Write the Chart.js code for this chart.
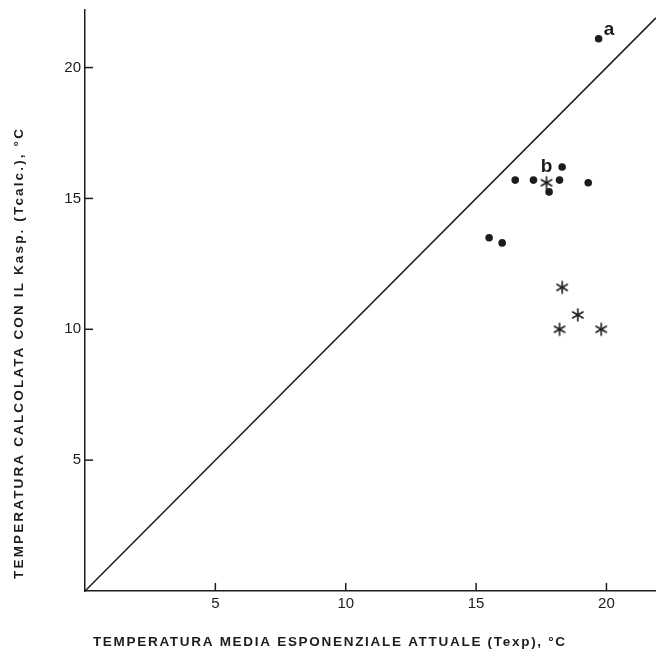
<!DOCTYPE html>
<html>
<head>
<meta charset="utf-8">
<script src="https://cdn.jsdelivr.net/npm/chart.js@4.4.1/dist/chart.umd.min.js"></script>
<style>
  body { margin: 0; background: #fff; }
  #wrap { width: 656px; height: 656px; }
</style>
</head>
<body>
<div id="wrap"><canvas id="chart"></canvas></div>
<script>
// Data
const dotsX = [19.7, 16.5, 17.2, 18.3, 18.2, 17.8, 19.3, 15.5, 16.0];
const dotsY = [21.1, 15.7, 15.7, 16.2, 15.7, 15.25, 15.6, 13.5, 13.3];
const starsX = [17.7, 18.3, 18.9, 18.2, 19.8];
const starsY = [15.6, 11.6, 10.55, 10.0, 10.0];
const diagonal = [0, 21.9];
const xTicks = [5, 10, 15, 20];
const yTicks = [5, 10, 15, 20];
// label text, dataset index, point index
const pointLabels = [
  { text: "a", set: 0, index: 0 },
  { text: "b", set: 1, index: 0 },
];

const ink = "#1c1c1c";
const xTitle = "TEMPERATURA MEDIA ESPONENZIALE ATTUALE (Texp), °C";
const yTitle = "TEMPERATURA CALCOLATA CON IL Kasp. (Tcalc.), °C";

// six armed asterisk used for the second series
const makeStar = () => {
  const c = document.createElement("canvas");
  c.width = 16;
  c.height = 16;
  const g = c.getContext("2d");
  g.strokeStyle = ink;
  g.lineWidth = 1.6;
  g.lineCap = "round";
  for (let k = 0; k < 3; k++) {
    const a = Math.PI / 2 + (k * Math.PI) / 3;
    g.beginPath();
    g.moveTo(8 - 6 * Math.cos(a), 8 - 6 * Math.sin(a));
    g.lineTo(8 + 6 * Math.cos(a), 8 + 6 * Math.sin(a));
    g.stroke();
  }
  return c;
};

const toPoints = (xs, ys) => xs.map((x, i) => ({ x, y: ys[i] }));

// draw text spread out to a given length
const spreadText = (ctx, text, cx, cy, length) => {
  ctx.letterSpacing = "0px";
  const w = ctx.measureText(text).width;
  const gap = Math.max(0, (length - w) / text.length);
  ctx.letterSpacing = gap.toFixed(2) + "px";
  ctx.fillText(text, cx + gap / 2, cy);
};

const decorations = {
  id: "decorations",
  afterDraw(chart) {
    const { ctx, scales } = chart;
    const { x, y } = scales;
    ctx.save();
    ctx.strokeStyle = ink;
    ctx.lineWidth = 1.5;
    // inward tick marks
    xTicks.forEach((v) => {
      const px = x.getPixelForValue(v);
      ctx.beginPath();
      ctx.moveTo(px, y.bottom);
      ctx.lineTo(px, y.bottom - 8);
      ctx.stroke();
    });
    yTicks.forEach((v) => {
      const py = y.getPixelForValue(v);
      ctx.beginPath();
      ctx.moveTo(x.left, py);
      ctx.lineTo(x.left + 8, py);
      ctx.stroke();
    });

    // axis titles
    ctx.fillStyle = ink;
    ctx.font = "bold 13.5px 'Liberation Sans', Arial, sans-serif";
    ctx.textAlign = "center";
    ctx.textBaseline = "middle";
    spreadText(ctx, xTitle, 329, 642, 474);
    ctx.save();
    ctx.translate(19, 354);
    ctx.rotate(-Math.PI / 2);
    spreadText(ctx, yTitle, 0, 0, 452);
    ctx.restore();

    // point labels
    ctx.letterSpacing = "0px";
    ctx.font = "bold 19px 'Liberation Sans', Arial, sans-serif";
    pointLabels.forEach((l) => {
      const el = chart.getDatasetMeta(l.set).data[l.index];
      if (l.text === "a") {
        ctx.textAlign = "left";
        ctx.fillText(l.text, el.x + 5, el.y - 9);
      } else {
        ctx.textAlign = "center";
        ctx.fillText(l.text, el.x, el.y - 16);
      }
    });
    ctx.restore();
  },
};

const tickFont = { family: "'Liberation Sans', Arial, sans-serif", size: 15 };

new Chart(document.getElementById("chart"), {
  type: "scatter",
  data: {
    datasets: [
      {
        label: "dots",
        data: toPoints(dotsX, dotsY),
        pointStyle: "circle",
        pointRadius: 3.8,
        backgroundColor: ink,
        borderColor: ink,
        borderWidth: 0,
      },
      {
        label: "stars",
        data: toPoints(starsX, starsY),
        pointStyle: makeStar(),
      },
      {
        label: "diagonal",
        type: "line",
        data: toPoints(diagonal, diagonal),
        borderColor: ink,
        borderWidth: 1.5,
        pointRadius: 0,
        fill: false,
      },
    ],
  },
  options: {
    responsive: true,
    maintainAspectRatio: false,
    animation: false,
    layout: {
      autoPadding: false,
      padding: { top: 10, right: 0, left: 0, bottom: 0 },
    },
    plugins: { legend: { display: false }, tooltip: { enabled: false } },
    scales: {
      x: {
        type: "linear",
        min: 0,
        max: 21.9,
        afterFit: (s) => {
          s.height = 65;
          s.paddingLeft = 0;
          s.paddingRight = 0;
        },
        afterBuildTicks: (s) => { s.ticks = xTicks.map((v) => ({ value: v })); },
        grid: { display: false, drawTicks: false },
        border: { display: true, color: ink, width: 1.5 },
        ticks: { color: ink, font: tickFont, padding: 4, maxRotation: 0 },
      },
      y: {
        type: "linear",
        min: 0,
        max: 22.2,
        afterFit: (s) => {
          s.width = 85;
          s.paddingTop = 0;
          s.paddingBottom = 0;
        },
        afterBuildTicks: (s) => { s.ticks = yTicks.map((v) => ({ value: v })); },
        grid: { display: false, drawTicks: false },
        border: { display: true, color: ink, width: 1.5 },
        ticks: { color: ink, font: tickFont, padding: 4 },
      },
    },
  },
  plugins: [decorations],
});
</script>
</body>
</html>
